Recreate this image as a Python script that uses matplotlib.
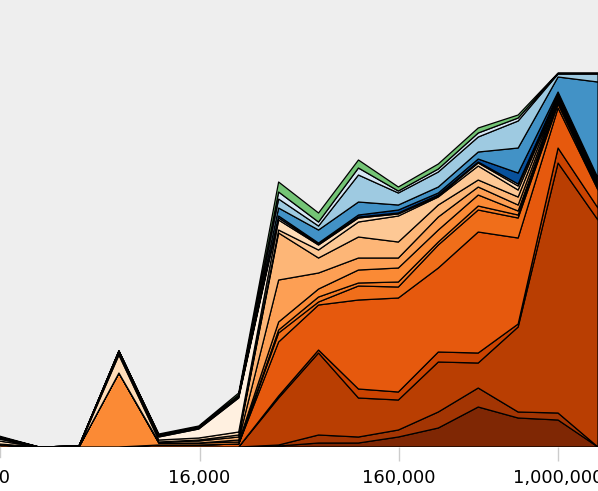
import numpy as np
import matplotlib
matplotlib.use("Agg")
import matplotlib.pyplot as plt

# bin centres (log spaced)
x = 10 ** (3.2 + 0.2 * np.arange(16))

# stacked layers, bottom to top
layer_01 = [0, 0, 0, 0, 0, 0, 0, 1, 4, 4, 10, 19, 40, 29, 27, 0]
layer_02 = [0, 0, 0, 0, 0, 0, 0, 1, 8, 6, 7, 16, 19, 6, 7, 0]
layer_03 = [0, 0, 0, 0, 0, 0, 0, 47, 82, 39, 30, 50, 25, 85, 250, 227]
layer_04 = [0, 0, 0, 0, 0, 0, 0, 2, 3, 9, 8, 10, 10, 3, 15, 12]
layer_05 = [2, 0, 0, 0, 2, 2, 3, 54, 45, 89, 94, 84, 121, 86, 40, 18]
layer_06 = [0, 0, 0, 0, 0, 0, 0, 9, 3, 14, 11, 23, 22, 20, 4, 2]
layer_07 = [0, 0, 0, 0, 0, 0, 0, 3, 5, 3, 5, 3, 4, 3, 2, 1]
layer_08 = [1, 0, 0, 74, 2, 2, 2, 8, 8, 13, 14, 12, 11, 4, 2, 1]
layer_09 = [0, 0, 0, 0, 0, 0, 2, 42, 16, 12, 10, 13, 8, 6, 2, 1]
layer_10 = [0, 0, 0, 0, 1, 2, 3, 47, 15, 21, 16, 12, 7, 8, 1, 1]
layer_11 = [0, 0, 0, 0, 0, 1, 2, 3, 8, 15, 26, 8, 14, 7, 1, 1]
layer_12 = [3, 0, 0, 18, 2, 2, 3, 10, 5, 4, 2, 1, 3, 4, 1, 1]
layer_13 = [2, 0, 1, 2, 3, 9, 34, 2, 1, 1, 1, 1, 1, 2, 1, 1]
layer_14 = [1, 0, 0, 1, 1, 1, 1, 2, 1, 2, 3, 2, 3, 11, 2, 3]
layer_15 = [1, 0, 0, 1, 1, 1, 1, 8, 13, 13, 5, 6, 7, 25, 15, 96]
layer_16 = [0, 0, 0, 0, 0, 0, 1, 9, 4, 27, 12, 15, 15, 27, 3, 8]
layer_17 = [0, 0, 0, 0, 0, 0, 0, 7, 4, 7, 2, 3, 4, 3, 0.5, 0.5]
layer_18 = [1, 0, 0, 0, 1, 1, 2, 10, 9, 8, 4, 5, 5, 3, 0.5, 0.5]

layers = [layer_01, layer_02, layer_03, layer_04, layer_05, layer_06,
          layer_07, layer_08, layer_09, layer_10, layer_11, layer_12,
          layer_13, layer_14, layer_15, layer_16, layer_17, layer_18]

colors = ['#7f2704', '#a33503', '#b93e02', '#cb4301', '#e6590d', '#f06e1a',
          '#f57b25', '#fb8a35', '#fd9f54', '#fdb677', '#fdc895', '#fedcb8',
          '#fff0e0', '#08519c', '#4292c6', '#9ecae1', '#d6e6f4', '#74c476']

tick_vals = [16000, 160000, 1000000]
tick_text = ['16,000', '160,000', '1,000,000']

fig = plt.figure(figsize=(5.98, 4.91), dpi=100)
ax = fig.add_axes([0, 44 / 491, 1, 447 / 491])
ax.set_facecolor('#eeeeee')

ax.stackplot(x, *layers, colors=colors, edgecolor='black', linewidth=0.9)

ax.set_xscale('log')
ax.set_xlim(1600, 10 ** 6.2)
ax.set_ylim(0, 447)
ax.set_yticks([])
ax.set_xticks(tick_vals)
ax.set_xticklabels(tick_text, fontsize=13)
ax.xaxis.set_minor_locator(matplotlib.ticker.NullLocator())
ax.tick_params(axis='x', length=10, color='#cccccc', width=1, pad=6)
for s in ax.spines.values():
    s.set_visible(False)

# left-most label is cut off by the figure edge
fig.text(10 / 598, 1 - 478 / 491, '1,600', fontsize=13, ha='right', va='center')
ax.plot([0, 0], [-10, 0], color='#cccccc', lw=1, clip_on=False,
        transform=matplotlib.transforms.blended_transform_factory(ax.transAxes, ax.transData))

fig.savefig('out.png', dpi=100)
